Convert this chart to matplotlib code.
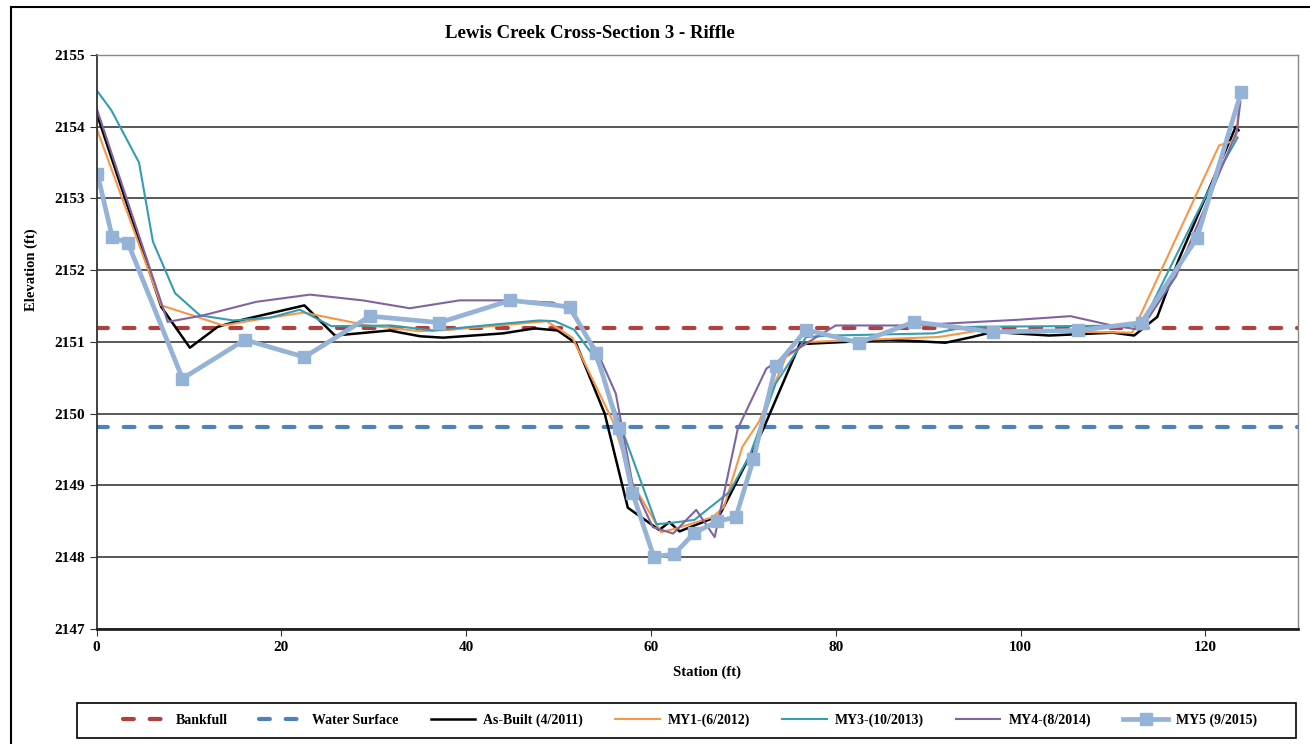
import matplotlib.pyplot as plt
from matplotlib.patches import Rectangle

# cross-section survey data (station ft, elevation ft)
bankfull_x = [0, 130]
bankfull_y = [2151.19, 2151.19]
water_x = [0, 130]
water_y = [2149.82, 2149.82]

asbuilt_x = [0, 7.0, 10.1, 13.1, 15.8, 22.5, 25.8, 31.7, 35.0, 37.5, 44.0, 47.4, 49.9, 51.9,
             55.0, 57.5, 60.9, 62.0, 63.1, 67.4, 68.8, 72.1, 76.1, 85.8, 91.9, 94.8, 97.0,
             103.1, 110.0, 112.3, 114.8, 117.1, 123.3, 123.6]
asbuilt_y = [2154.19, 2151.49, 2150.92, 2151.21, 2151.31, 2151.51, 2151.09, 2151.16, 2151.08,
             2151.06, 2151.12, 2151.19, 2151.16, 2150.98, 2150.00, 2148.69, 2148.38, 2148.49,
             2148.36, 2148.58, 2148.93, 2149.77, 2150.97, 2151.03, 2150.99, 2151.07, 2151.14,
             2151.09, 2151.13, 2151.09, 2151.35, 2152.14, 2154.00, 2153.95]

my1_x = [0, 7.0, 10.4, 13.7, 17.3, 22.4, 29.4, 35.0, 38.2, 43.6, 48.7, 51.5, 55.9, 58.0,
         61.1, 62.7, 66.7, 67.9, 69.9, 71.7, 74.6, 77.1, 91.2, 95.5, 112.1, 121.5, 123.3, 123.6]
my1_y = [2153.98, 2151.51, 2151.37, 2151.23, 2151.31, 2151.41, 2151.23, 2151.15, 2151.17,
         2151.23, 2151.29, 2151.06, 2149.89, 2149.03, 2148.35, 2148.40, 2148.56, 2148.70,
         2149.54, 2149.89, 2150.79, 2151.00, 2151.07, 2151.16, 2151.13, 2153.74, 2153.81, 2154.23]

my3_x = [0, 1.6, 4.6, 6.1, 8.5, 11.2, 14.8, 18.8, 22.0, 25.4, 31.9, 36.4, 43.6, 47.9, 49.6,
         51.7, 54.1, 56.9, 60.6, 62.3, 64.7, 68.5, 70.7, 73.5, 76.8, 79.6, 90.6, 94.1, 113.1,
         118.9, 121.1, 123.5]
my3_y = [2154.51, 2154.23, 2153.50, 2152.40, 2151.68, 2151.37, 2151.30, 2151.34, 2151.45,
         2151.22, 2151.23, 2151.16, 2151.25, 2151.30, 2151.29, 2151.17, 2150.75, 2149.77,
         2148.46, 2148.48, 2148.52, 2148.91, 2149.42, 2150.42, 2151.07, 2151.09, 2151.12,
         2151.21, 2151.23, 2152.74, 2153.30, 2153.85]

my4_x = [0, 7.7, 11.5, 17.3, 23.1, 28.8, 33.9, 39.3, 44.4, 49.4, 51.2, 54.1, 56.2, 58.0,
         60.2, 62.4, 64.9, 66.9, 69.4, 72.5, 75.0, 80.0, 88.0, 99.8, 105.4, 109.9, 113.0,
         116.8, 123.4, 123.8]
my4_y = [2154.26, 2151.28, 2151.37, 2151.56, 2151.66, 2151.58, 2151.47, 2151.58, 2151.58,
         2151.55, 2151.44, 2150.89, 2150.28, 2149.03, 2148.42, 2148.33, 2148.66, 2148.28,
         2149.79, 2150.63, 2150.84, 2151.23, 2151.23, 2151.31, 2151.36, 2151.23, 2151.17,
         2151.91, 2153.93, 2154.35]

my5_x = [0.1, 1.7, 3.4, 9.3, 16.05, 22.5, 29.6, 37.1, 44.8, 51.2, 54.1, 56.5, 58.0, 60.3,
         62.5, 64.7, 67.2, 69.2, 71.1, 73.5, 76.8, 82.5, 88.5, 97.0, 106.2, 113.1, 119.1, 123.9]
my5_y = [2153.34, 2152.46, 2152.38, 2150.49, 2151.03, 2150.79, 2151.36, 2151.27, 2151.58,
         2151.49, 2150.84, 2149.80, 2148.90, 2148.01, 2148.04, 2148.34, 2148.50, 2148.56,
         2149.37, 2150.66, 2151.17, 2150.99, 2151.28, 2151.14, 2151.16, 2151.27, 2152.45, 2154.49]

plt.rcParams['font.family'] = ['Liberation Serif', 'DejaVu Serif']
plt.rcParams['font.weight'] = 'bold'

fig = plt.figure(figsize=(13.1, 7.44), dpi=100)
ax = fig.add_axes([0.0737, 0.1546, 0.9169, 0.7715])

# outer chart frame (cut off on the right / bottom like the source)
fig.patches.append(Rectangle((11/1310, -0.05), 1.2, 1 - 7/744 + 0.05, transform=fig.transFigure,
                             fill=False, edgecolor='black', linewidth=1.5))

ax.plot(bankfull_x, bankfull_y, color='#B0403C', lw=3, dashes=(2.6, 3.8),
        dash_capstyle='round', label='Bankfull')
ax.plot(water_x, water_y, color='#4F81BD', lw=3, dashes=(2.6, 3.8),
        dash_capstyle='round', label='Water Surface')
ax.plot(asbuilt_x, asbuilt_y, color='black', lw=1.8, label='As-Built (4/2011)')
ax.plot(my1_x, my1_y, color='#F79646', lw=1.5, label='MY1-(6/2012)')
ax.plot(my3_x, my3_y, color='#349DB2', lw=1.5, label='MY3-(10/2013)')
ax.plot(my4_x, my4_y, color='#8064A2', lw=1.5, label='MY4-(8/2014)')
ax.plot(my5_x, my5_y, color='#95B3D7', lw=3.4, marker='s', markersize=8,
        label='MY5 (9/2015)')

ax.set_xlim(0, 130)
ax.set_ylim(2147, 2155)
ax.set_xticks(range(0, 121, 20))
ax.set_yticks(range(2147, 2156))
ax.yaxis.grid(True, color='#2a2a2a', lw=1.1)
ax.set_axisbelow(True)
ax.tick_params(axis='both', labelsize=11, direction='out', length=5, color='#333333')
for lab in ax.get_xticklabels() + ax.get_yticklabels():
    lab.set_fontweight('bold')

for s in ['top', 'right']:
    ax.spines[s].set_color('#888888')
    ax.spines[s].set_linewidth(1)
ax.spines['left'].set_color('#333333')
ax.spines['left'].set_linewidth(1.3)
ax.spines['bottom'].set_color('#222222')
ax.spines['bottom'].set_linewidth(2)

fig.text(590/1310, 1 - 33/744, 'Lewis Creek Cross-Section 3 - Riffle', ha='center', va='center',
         fontsize=13.5, fontweight='bold')
fig.text(707/1310, 1 - 672/744, 'Station (ft)', ha='center', va='center',
         fontsize=10.5, fontweight='bold')
fig.text(31/1310, 1 - 270/744, 'Elevation (ft)', ha='center', va='center', rotation=90,
         fontsize=10.5, fontweight='bold')

# legend: a box spanning the bottom, entries centred inside it
fig.patches.append(Rectangle((77/1310, 6.5/744), 1219/1310, 35/744, transform=fig.transFigure,
                             fill=False, edgecolor='black', linewidth=1.2))
leg = fig.legend(loc='center', ncol=7, bbox_to_anchor=(690/1310, 24/744),
                 fontsize=10, frameon=False, handlelength=3.2,
                 columnspacing=2.3, handletextpad=0.6)
for t in leg.get_texts():
    t.set_fontweight('bold')

fig.savefig('out.png', dpi=100)
